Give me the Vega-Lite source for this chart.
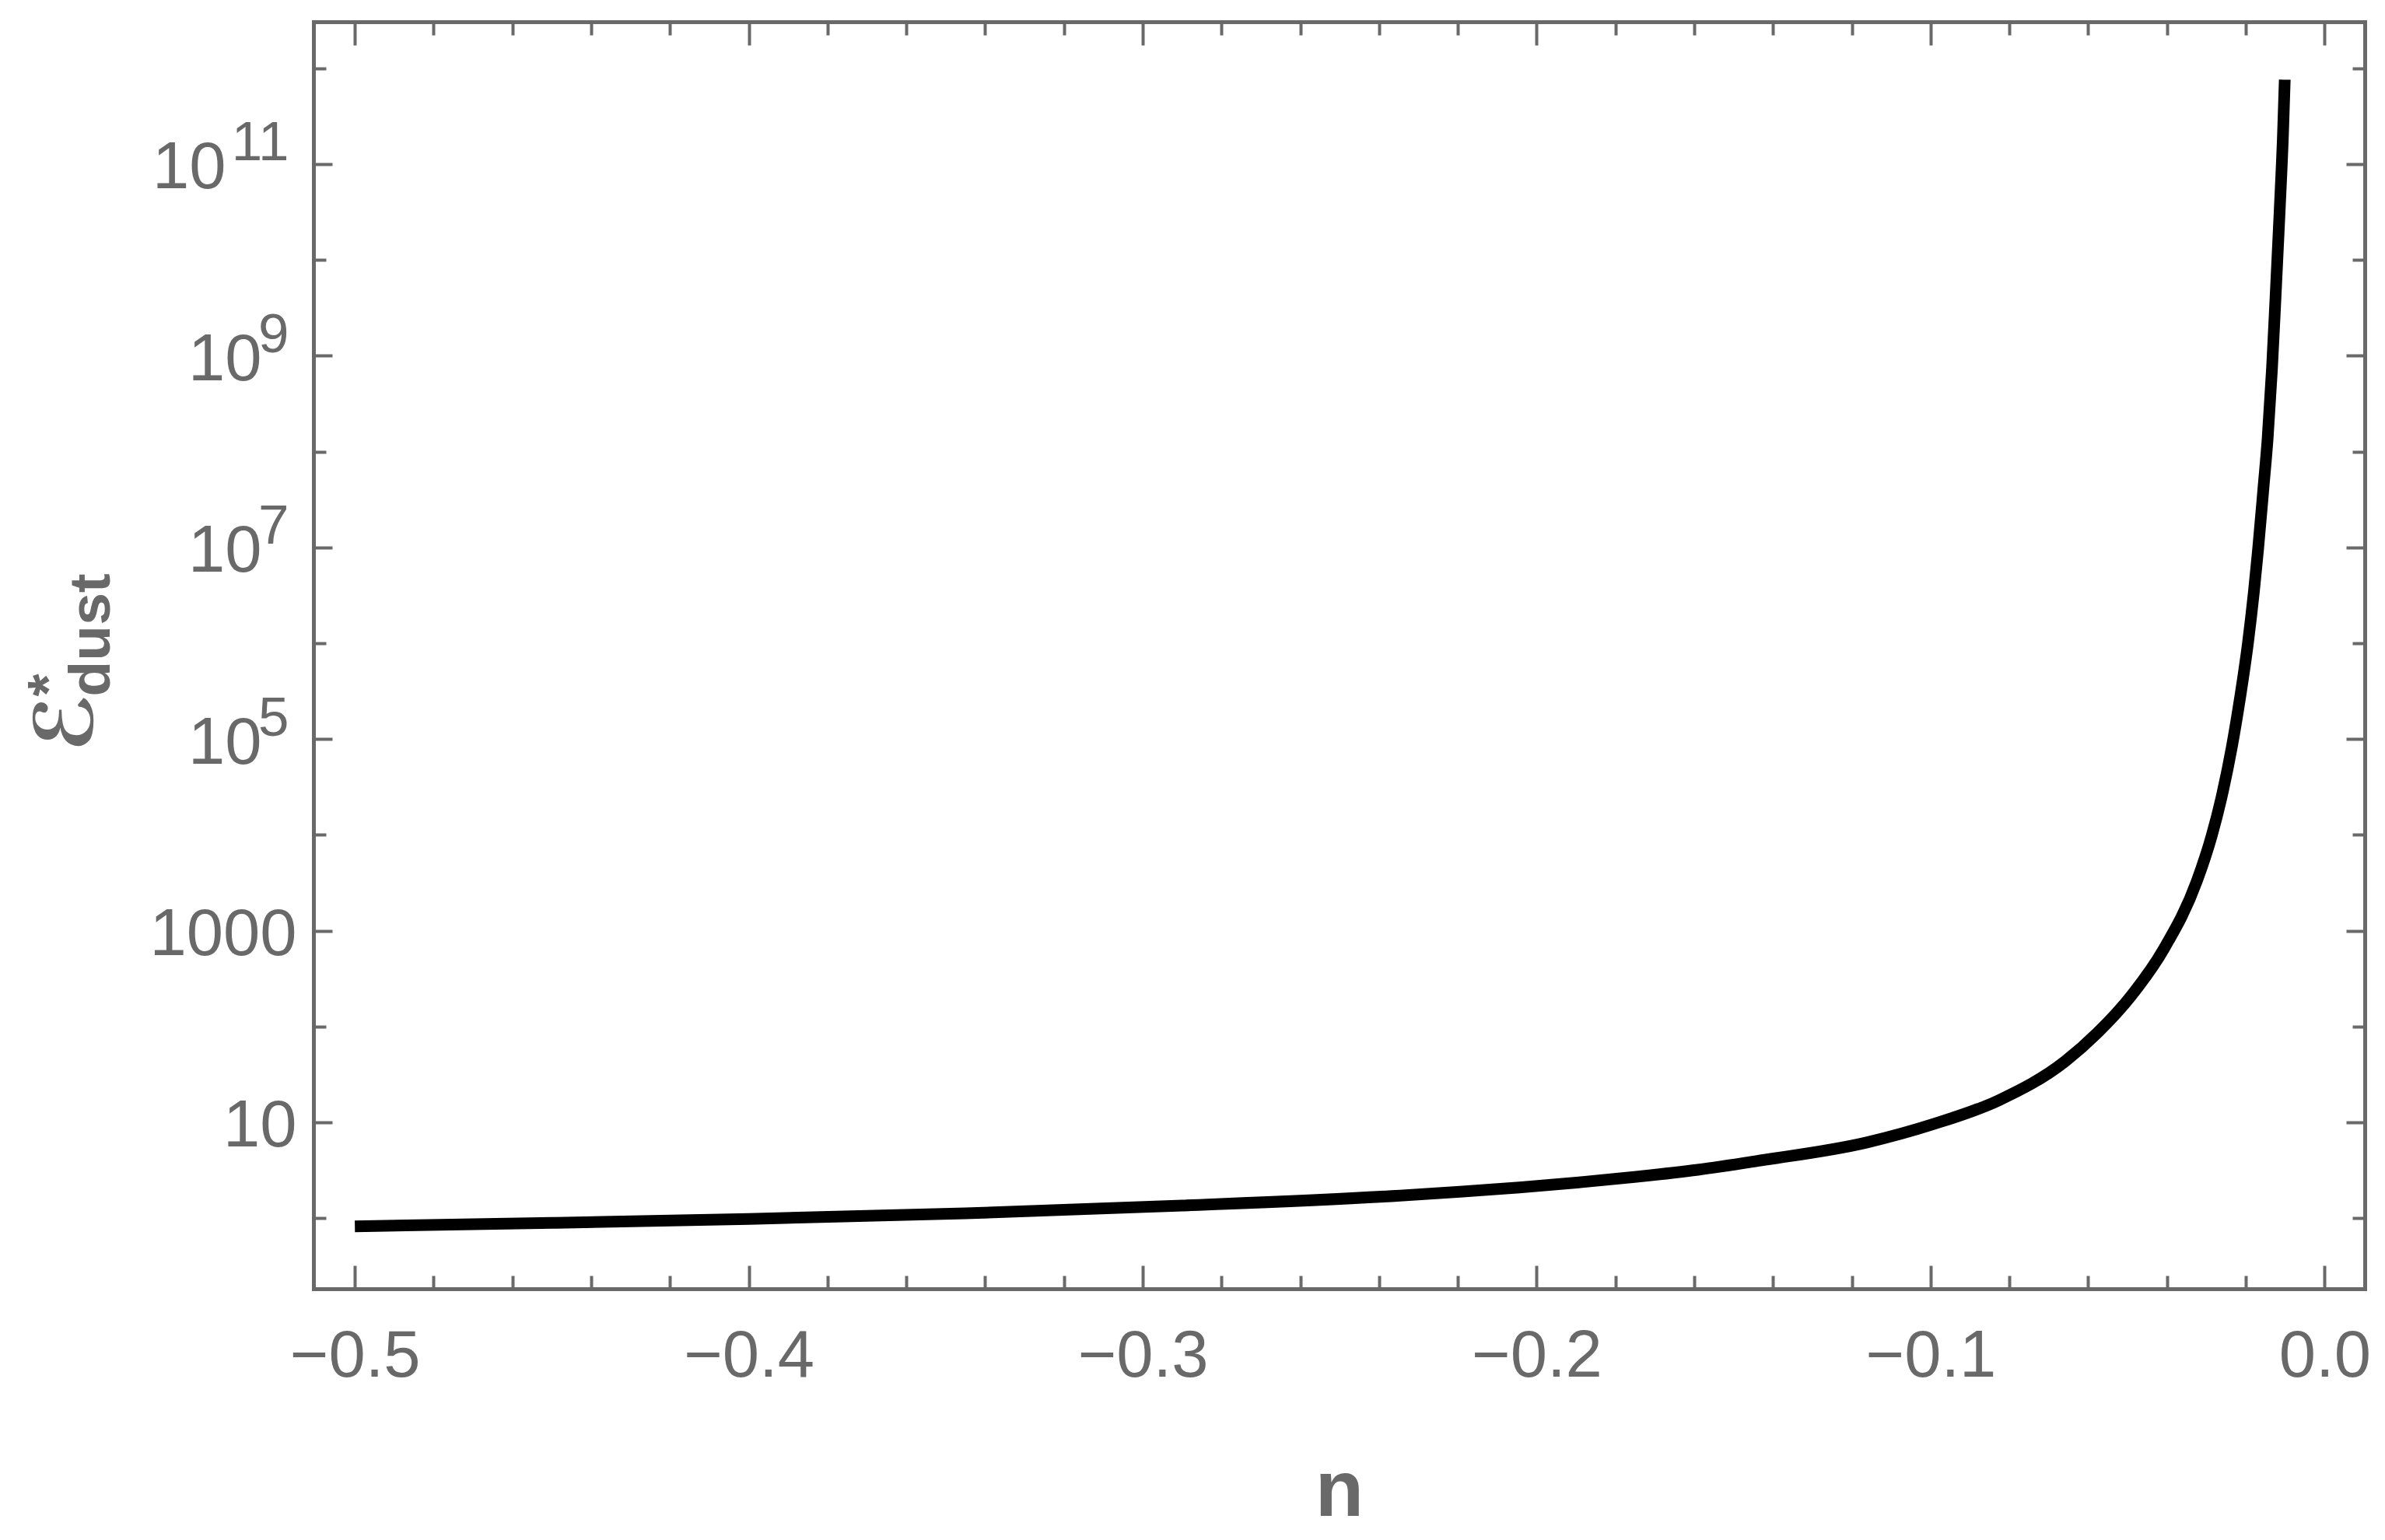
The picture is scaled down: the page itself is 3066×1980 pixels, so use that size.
{
  "$schema": "https://vega.github.io/schema/vega-lite/v6.json",
  "autosize": {"type": "none"},
  "width": 2637,
  "height": 1629,
  "padding": {"left": 403, "top": 28, "right": 26, "bottom": 323},
  "background": "white",
  "config": {
    "view": {"stroke": null},
    "axis": {
      "grid": false,
      "labelOverlap": false,
      "labelFlush": false,
      "labelBound": false,
      "labelLimit": 0,
      "labelFont": "Liberation Sans",
      "labelColor": "#696969",
      "tickColor": "#696969",
      "domainColor": "#696969",
      "titleColor": "#696969",
      "titleFont": "Liberation Sans",
      "tickWidth": 4,
      "domainWidth": 5,
      "domainCap": "square",
      "tickCap": "butt"
    }
  },
  "data": {
    "values": [
      {"n": -0.5, "E": 0.822},
      {"n": -0.45, "E": 0.893},
      {"n": -0.4, "E": 0.982},
      {"n": -0.345, "E": 1.122},
      {"n": -0.29, "E": 1.352},
      {"n": -0.2347, "E": 1.718},
      {"n": -0.2195, "E": 1.884},
      {"n": -0.2044, "E": 2.089},
      {"n": -0.1893, "E": 2.36},
      {"n": -0.1742, "E": 2.716},
      {"n": -0.1591, "E": 3.199},
      {"n": -0.144, "E": 3.954},
      {"n": -0.1162, "E": 6.166},
      {"n": -0.0994, "E": 9.55},
      {"n": -0.0827, "E": 16.98},
      {"n": -0.0659, "E": 43.15},
      {"n": -0.0575, "E": 87.1},
      {"n": -0.0491, "E": 208.9},
      {"n": -0.0408, "E": 645.7},
      {"n": -0.0324, "E": 3311},
      {"n": -0.02866, "E": 9772},
      {"n": -0.02623, "E": 23988},
      {"n": -0.02353, "E": 83176},
      {"n": -0.02142, "E": 275400},
      {"n": -0.01945, "E": 1007000},
      {"n": -0.01793, "E": 3499000},
      {"n": -0.01688, "E": 9550000},
      {"n": -0.0155, "E": 42660000},
      {"n": -0.01445, "E": 138000000},
      {"n": -0.01336, "E": 724400000},
      {"n": -0.01243, "E": 4266000000},
      {"n": -0.01142, "E": 31620000000},
      {"n": -0.01057, "E": 199500000000},
      {"n": -0.01011, "E": 758600000000}
    ]
  },
  "resolve": {"axis": {"x": "independent", "y": "independent"}},
  "layer": [
    {
      "mark": {"type": "line", "color": "black", "strokeWidth": 15, "strokeCap": "butt", "interpolate": "monotone", "clip": true},
      "encoding": {
        "x": {"field": "n", "type": "quantitative",
          "scale": {"domain": [-0.5105, 0.0102], "nice": false, "zero": false},
          "axis": {"orient": "bottom", "values": [-0.5, -0.4, -0.3, -0.2, -0.1, 0], "format": ".1f",
            "tickSize": -30, "labelPadding": 75, "labelFontSize": 85, "labelBaseline": "top", "labelAlign": "center",
            "domain": true,
            "title": "n", "titleFontSize": 102, "titleFontWeight": "bold", "titleX": 1318.5, "titleY": 291,
            "titleAlign": "center", "titleBaseline": "alphabetic", "titleAngle": 0}},
        "y": {"field": "E", "type": "quantitative",
          "scale": {"type": "log", "domain": [0.1832, 3055000000000], "nice": false},
          "axis": {"orient": "left", "values": [10, 1000, 100000, 10000000, 1000000000, 100000000000],
            "labelExpr": "datum.value == 10 ? '10' : datum.value == 1000 ? '1000' : ''",
            "tickSize": -24, "labelPadding": 46, "labelFontSize": 85, "labelAlign": "right", "labelBaseline": "middle", "labelOffset": 5,
            "domain": true,
            "title": "ℰ", "titleFont": "DejaVu Sans", "titleFontSize": 104, "titleFontWeight": "bold",
            "titleX": -285, "titleY": 938, "titleAngle": -90, "titleAlign": "left", "titleBaseline": "alphabetic"}}
      }
    },
    {
      "mark": {"type": "line", "strokeOpacity": 0},
      "encoding": {
        "x": {"field": "n", "type": "quantitative",
          "axis": {"orient": "bottom", "values": [-0.48, -0.46, -0.44, -0.42, -0.38, -0.36, -0.34, -0.32, -0.28, -0.26, -0.24, -0.22, -0.18, -0.16, -0.14, -0.12, -0.08, -0.06, -0.04, -0.02],
            "tickSize": -17, "labels": false, "domain": false, "title": null}},
        "y": {"field": "E", "type": "quantitative",
          "axis": {"orient": "left", "values": [1, 100, 10000, 1000000, 100000000, 10000000000, 1000000000000],
            "tickSize": -16, "labels": false, "domain": false,
            "title": "*", "titleFont": "Liberation Sans", "titleFontSize": 75, "titleFontWeight": "bold",
            "titleX": -317, "titleY": 867, "titleAngle": -90, "titleAlign": "left", "titleBaseline": "alphabetic"}}
      }
    },
    {
      "mark": {"type": "line", "strokeOpacity": 0},
      "encoding": {
        "x": {"field": "n", "type": "quantitative",
          "axis": {"orient": "top", "values": [-0.5, -0.4, -0.3, -0.2, -0.1, 0],
            "tickSize": -30, "labels": false, "domain": true, "title": null}},
        "y": {"field": "E", "type": "quantitative",
          "axis": {"orient": "right", "values": [10, 1000, 100000, 10000000, 1000000000, 100000000000],
            "tickSize": -24, "labels": false, "domain": true,
            "title": "dust", "titleFont": "Liberation Sans", "titleFontSize": 75, "titleFontWeight": "bold",
            "titleX": -2900, "titleY": 867, "titleAngle": -90, "titleAlign": "left", "titleBaseline": "alphabetic"}}
      }
    },
    {
      "mark": {"type": "line", "strokeOpacity": 0},
      "encoding": {
        "x": {"field": "n", "type": "quantitative",
          "axis": {"orient": "top", "values": [-0.48, -0.46, -0.44, -0.42, -0.38, -0.36, -0.34, -0.32, -0.28, -0.26, -0.24, -0.22, -0.18, -0.16, -0.14, -0.12, -0.08, -0.06, -0.04, -0.02],
            "tickSize": -17, "labels": false, "domain": false, "title": null}},
        "y": {"field": "E", "type": "quantitative",
          "axis": {"orient": "right", "values": [1, 100, 10000, 1000000, 100000000, 10000000000, 1000000000000],
            "tickSize": -16, "labels": false, "domain": false, "title": null}}
      }
    },
    {
      "mark": {"type": "line", "strokeOpacity": 0},
      "encoding": {
        "x": {"field": "n", "type": "quantitative", "axis": null},
        "y": {"field": "E", "type": "quantitative",
          "axis": {"orient": "left", "values": [100000, 10000000, 1000000000],
            "labelExpr": "'10'", "ticks": false, "tickSize": 0, "domain": false,
            "labelPadding": 67, "labelFontSize": 85, "labelAlign": "right", "labelBaseline": "middle", "labelOffset": 5,
            "title": null}}
      }
    },
    {
      "mark": {"type": "line", "strokeOpacity": 0},
      "encoding": {
        "x": {"field": "n", "type": "quantitative", "axis": null},
        "y": {"field": "E", "type": "quantitative",
          "axis": {"orient": "left", "values": [100000000000],
            "labelExpr": "'10'", "ticks": false, "tickSize": 0, "domain": false,
            "labelPadding": 113, "labelFontSize": 85, "labelAlign": "right", "labelBaseline": "middle", "labelOffset": 5,
            "title": null}}
      }
    },
    {
      "mark": {"type": "line", "strokeOpacity": 0},
      "encoding": {
        "x": {"field": "n", "type": "quantitative", "axis": null},
        "y": {"field": "E", "type": "quantitative",
          "axis": {"orient": "left", "values": [100000, 10000000, 1000000000, 100000000000],
            "labelExpr": "datum.value == 100000 ? '5' : datum.value == 10000000 ? '7' : datum.value == 1000000000 ? '9' : '11'",
            "ticks": false, "tickSize": 0, "domain": false,
            "labelPadding": 32, "labelFontSize": 71, "labelAlign": "right", "labelBaseline": "middle", "labelOffset": -26,
            "title": null}}
      }
    }
  ]
}
